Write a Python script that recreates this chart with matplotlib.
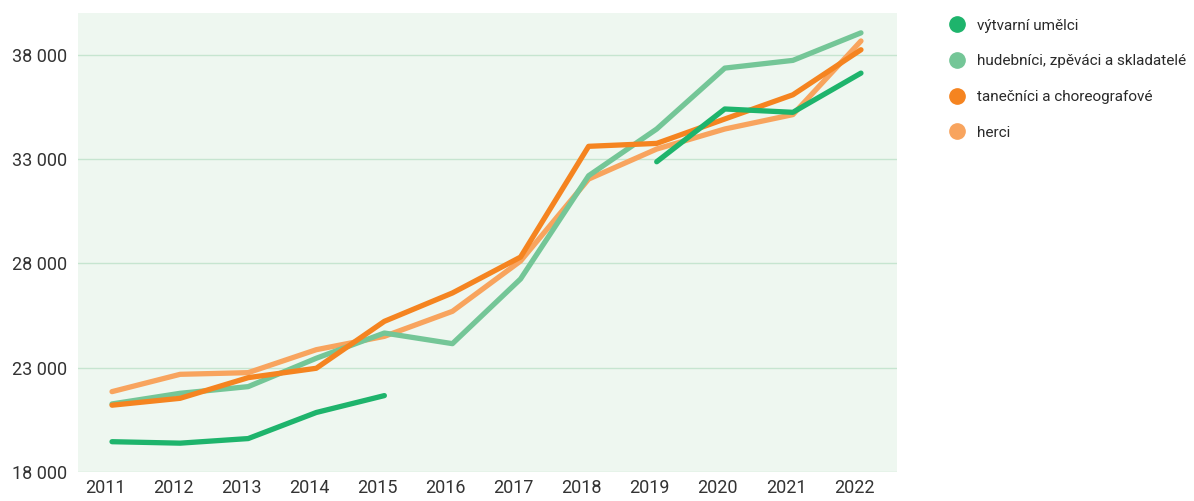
import matplotlib.pyplot as plt
from matplotlib.lines import Line2D
from matplotlib.transforms import ScaledTranslation
import numpy as np

years = list(range(2011, 2023))
vytvarni = [19450, 19380, 19600, 20850, 21660, np.nan, np.nan, np.nan, 32870, 35400, 35240, 37120]
hudebnici = [21260, 21770, 22090, 23450, 24660, 24150, 27250, 32200, 34440, 37360, 37730, 39050]
tanecnici = [21200, 21530, 22520, 22970, 25220, 26580, 28300, 33610, 33750, 34920, 36080, 38240]
herci = [21850, 22680, 22760, 23860, 24500, 25700, 28110, 32040, 33480, 34440, 35130, 38660]

labels = ['výtvarní umělci', 'hudebníci, zpěváci a skladatelé', 'tanečníci a choreografové', 'herci']
colors = ['#1eb46c', '#74c697', '#f58420', '#f8a45e']
yticks = [18000, 23000, 28000, 33000, 38000]

plt.rcParams['font.family'] = ['Roboto', 'DejaVu Sans']

fig = plt.figure(figsize=(11.94, 5.01), dpi=100)
ax = fig.add_axes([0.0653, 0.058, 0.686, 0.916])
ax.set_facecolor('#eef7f0')

series = [vytvarni, hudebnici, tanecnici, herci]
for vals, col, z in zip(series, colors, [5, 3, 4, 2]):
    ax.plot(years, vals, color=col, lw=3.8, solid_capstyle='round',
            solid_joinstyle='round', zorder=z)

ax.set_xlim(2010.5, 2022.53)
ax.set_ylim(18000, 40000)
ax.set_yticks(yticks)
ax.set_yticklabels([f'{v:,}'.replace(',', ' ') for v in yticks])
ax.set_xticks(years)
ax.grid(axis='y', color='#c6e5d0', lw=1)
ax.set_axisbelow(True)
for s in ax.spines.values():
    s.set_visible(False)
ax.tick_params(length=0, labelsize=13, colors='#333333', pad=8)
ax.tick_params(axis='x', pad=5)
# x labels sit a bit left of the data points in the original
off = ScaledTranslation(-7 / 100, 0, fig.dpi_scale_trans)
for lab in ax.get_xticklabels():
    lab.set_transform(lab.get_transform() + off)

handles = [Line2D([], [], ls='', marker='o', ms=11, color=c) for c in colors]
fig.legend(handles, labels, loc='upper left', bbox_to_anchor=(0.777, 0.99),
           frameon=False, fontsize=11, labelspacing=1.42, handletextpad=0.3,
           labelcolor='#2a2a2a')

fig.savefig('out.png', dpi=100)
